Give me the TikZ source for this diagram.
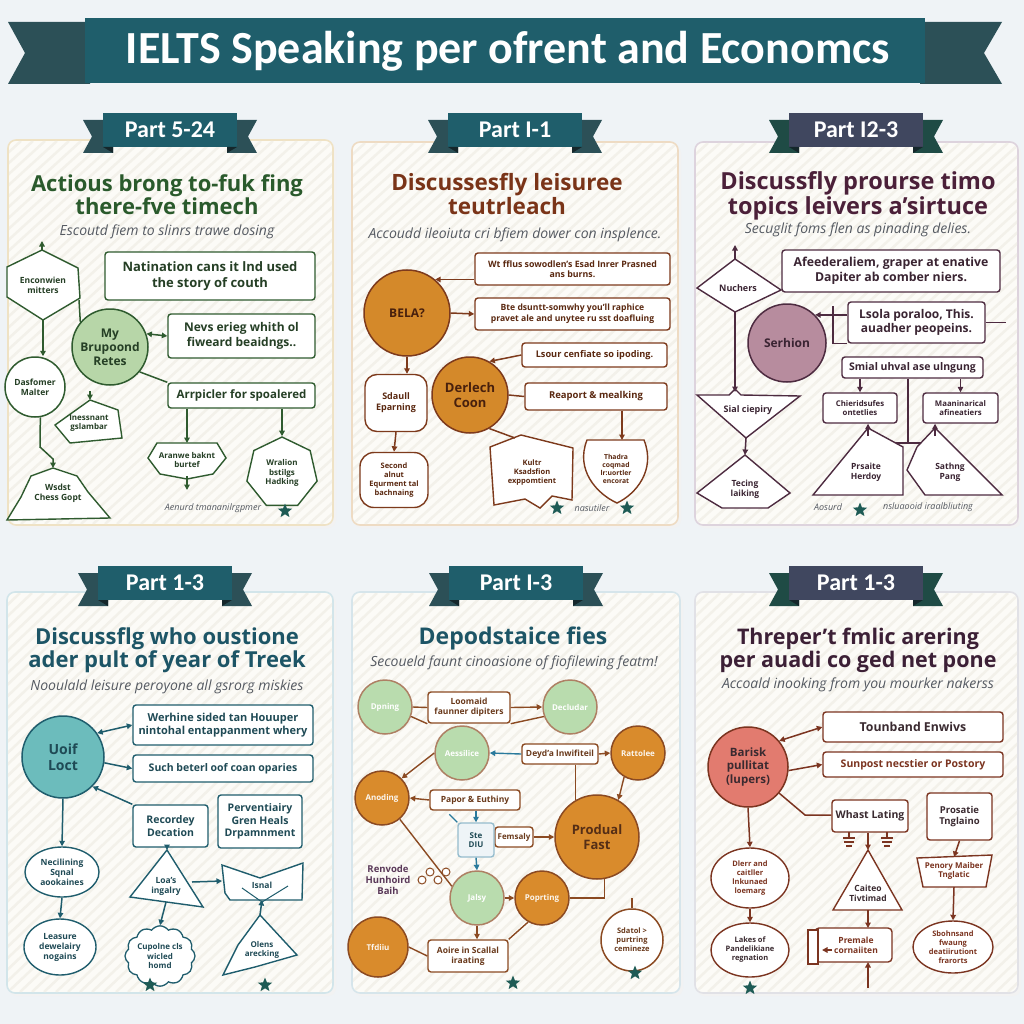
\documentclass[tikz,border=0pt]{standalone}
\usepackage{fontspec}
\setmainfont{Open Sans}
\newfontfamily\banfont{Carlito}
\usetikzlibrary{arrows.meta,shapes.geometric,shapes.symbols,calc}
\newcommand\fs[2]{\fontsize{#1}{#2}\selectfont}
\definecolor{bg}{HTML}{EFF3F6}
\definecolor{banmain}{HTML}{1F5E6B}
\definecolor{bantail}{HTML}{2C5057}
\definecolor{slate}{HTML}{40475F}
\definecolor{slatetail}{HTML}{1F4B45}
\definecolor{foldc}{HTML}{15272B}
\definecolor{pfill}{HTML}{FCFBF7}
\definecolor{stripec}{HTML}{F3F1EA}
\definecolor{subc}{HTML}{555A62}
\definecolor{starc}{HTML}{1E5B55}
\definecolor{l1}{HTML}{2F5B2F}\definecolor{t1}{HTML}{2A5A2C}\definecolor{g1}{HTML}{B7D6A8}\definecolor{p1b}{HTML}{EFE2C4}\definecolor{k1}{HTML}{253F25}
\definecolor{l2}{HTML}{7D3A1C}\definecolor{t2}{HTML}{7A3418}\definecolor{o2}{HTML}{D4892A}\definecolor{p2b}{HTML}{EEDBC3}\definecolor{k2}{HTML}{5A2810}
\definecolor{l3}{HTML}{4D2B40}\definecolor{t3}{HTML}{4B2039}\definecolor{m3}{HTML}{B78C9E}\definecolor{p3b}{HTML}{DDD3DD}\definecolor{k3}{HTML}{3A2432}
\definecolor{l4}{HTML}{1F5D6D}\definecolor{t4}{HTML}{1D5566}\definecolor{c4}{HTML}{6CBCBC}\definecolor{p4b}{HTML}{D2E5EA}\definecolor{k4}{HTML}{1F4A55}
\definecolor{l5}{HTML}{8B4A22}\definecolor{a5}{HTML}{2A7A9C}\definecolor{g5}{HTML}{B9DCAE}\definecolor{o5}{HTML}{D98B2C}\definecolor{p5b}{HTML}{D6E5EB}\definecolor{k5}{HTML}{6A3A1C}
\definecolor{l6}{HTML}{7B3420}\definecolor{t6}{HTML}{3C2036}\definecolor{c6}{HTML}{E27B6F}\definecolor{p6b}{HTML}{E1E1E6}\definecolor{k6}{HTML}{3A2A30}

\tikzset{
 arr/.style={-{Triangle[length=5.5pt,width=5.5pt]}},
 darr/.style={{Triangle[length=5.5pt,width=5.5pt]}-{Triangle[length=5.5pt,width=5.5pt]}},
 panelbox/.style={rounded corners=8pt, line width=1.6pt, fill=pfill},
 stripe/.style={stripec, line width=2.5pt},
 ttl/.style={align=center, font=\bfseries\fs{22}{22}},
 subt/.style={font=\itshape\fs{14}{16}, text=subc},
 foot/.style={font=\itshape\fs{9}{11}, text=subc},
 starn/.style={star, star points=5, star point ratio=2.3, fill=starc, minimum size=15pt, inner sep=0pt},
 circ/.style={circle, line width=1.5pt, align=center, inner sep=0pt},
 box/.style={rectangle, rounded corners=3pt, line width=1.4pt, fill=white, align=center, inner sep=1pt},
 lbl/.style={align=center, inner sep=0pt},
 rtext/.style={font=\banfont\bfseries\fs{24}{26}, text=white}
}
\newcommand{\ribbon}[6]{% name, cx, ytop, main colour, tail colour, text
 \fill[#5] ({#2-87},{#3+7}) -- ({#2-57},{#3+7}) -- ({#2-57},{#3+40}) -- ({#2-87},{#3+40}) -- ({#2-78},{#3+23.5}) -- cycle;
 \fill[#5] ({#2+87},{#3+7}) -- ({#2+57},{#3+7}) -- ({#2+57},{#3+40}) -- ({#2+87},{#3+40}) -- ({#2+78},{#3+23.5}) -- cycle;
 \fill[#4] ({#2-67},{#3}) rectangle ({#2+67},{#3+34});
 \fill[foldc] ({#2-67},{#3+34}) -- ({#2-57},{#3+34}) -- ({#2-57},{#3+40}) -- cycle;
 \fill[foldc] ({#2+67},{#3+34}) -- ({#2+57},{#3+34}) -- ({#2+57},{#3+40}) -- cycle;
 \node[rtext] (#1) at (#2,{#3+17}) {#6};
}
\newcommand{\stripes}[4]{%
 \begin{scope}
 \clip[rounded corners=8pt] (#1,#2) rectangle (#3,#4);
 \foreach \s in {-420,-408,...,340} {\draw[stripe] ({#1+\s},#4) -- ({#1+\s+420},#2);}
 \end{scope}}

\begin{document}
\begin{tikzpicture}[x=1pt,y=-1pt]
\useasboundingbox (0,0) rectangle (1024,1024);
\fill[bg] (0,0) rectangle (1024,1024);

% ===== main banner =====
\fill[bantail] (8,22) -- (90,22) -- (90,84) -- (8,84) -- (25,53) -- cycle;
\fill[bantail] (1002,22) -- (920,22) -- (920,84) -- (1002,84) -- (984,53) -- cycle;
\fill[banmain] (85,18) rectangle (925,83);
\node[font=\banfont\bfseries\fs{46}{48}, text=white] (maintitle) at (508,51) {IELTS Speaking per ofrent and Economcs};

% ===== panel frames =====
\fill[black!5, rounded corners=8pt] (10,143) rectangle (336,528);
\fill[black!5, rounded corners=8pt] (354,145) rectangle (681,528);
\fill[black!5, rounded corners=8pt] (697,145) rectangle (1021,528);
\fill[black!5, rounded corners=8pt] (9,595) rectangle (336,996);
\fill[black!5, rounded corners=8pt] (354,595) rectangle (683,996);
\fill[black!5, rounded corners=8pt] (697,595) rectangle (1021,996);
\draw[panelbox, draw=p1b] (8,140) rectangle (333,525);
\draw[panelbox, draw=p2b] (352,142) rectangle (678,525);
\draw[panelbox, draw=p3b] (695,142) rectangle (1018,525);
\draw[panelbox, draw=p4b] (7,592) rectangle (333,993);
\draw[panelbox, draw=p5b] (352,592) rectangle (680,993);
\draw[panelbox, draw=p6b] (695,592) rectangle (1018,993);
\stripes{9}{141}{332}{524}
\stripes{353}{143}{677}{524}
\stripes{696}{143}{1017}{524}
\stripes{8}{593}{332}{992}
\stripes{353}{593}{679}{992}
\stripes{696}{593}{1017}{992}

\ribbon{rib1}{170}{113}{banmain}{bantail}{Part 5-24}
\ribbon{rib2}{515}{113}{banmain}{bantail}{Part I-1}
\ribbon{rib3}{856}{113}{slate}{slatetail}{Part I2-3}
\ribbon{rib4}{165}{566}{banmain}{bantail}{Part 1-3}
\ribbon{rib5}{516}{566}{banmain}{bantail}{Part I-3}
\ribbon{rib6}{856}{566}{slate}{slatetail}{Part 1-3}

% ================= PANEL 1 =================
\node[ttl, text=t1] (t1) at (167,195) {Actious brong to-fuk fing\\there-fve timech};
\node[subt] (s1) at (167,232) {Escoutd fiem to slinrs trawe dosing};
\tikzset{shp1/.style={draw=l1, line width=1.4pt, fill=white}, c1/.style={draw=l1, line width=1.5pt}, k1t/.style={lbl, text=k1}}
\draw[shp1] (42,250) -- (78,268) -- (80,298) -- (43,320) -- (7,297) -- (7,267) -- cycle;
\node[k1t, font=\bfseries\fs{8.5}{10}] (n1e) at (43,285) {Enconwien\\mitters};
\coordinate (n1etop) at (42,250); \coordinate (n1ebot) at (43,320); \coordinate (n1er) at (79,300);
\draw[shp1] (90,400) -- (118,410) -- (122,438) -- (70,443) -- (55,425) -- cycle;
\node[k1t, font=\bfseries\fs{8}{9.5}] (n1g) at (89,423) {Inessnant\\gslambar};
\coordinate (n1gtop) at (90,400);
\draw[shp1] (53,468) -- (77,476) -- (88,492) -- (110,518) -- (7,520) -- (21,497) -- (31,476) -- cycle;
\node[k1t, font=\bfseries\fs{8.5}{10}] (n1h) at (58,493) {Wsdst\\Chess Gopt};
\coordinate (n1htop) at (53,468);
\draw[shp1] (157,443) -- (217,443) -- (226,458) -- (213,474) -- (187,479) -- (160,474) -- (148,458) -- cycle;
\node[k1t, font=\bfseries\fs{8}{9.5}] (n1i) at (187,460) {Aranwe baknt\\burtef};
\coordinate (n1itop) at (187,443); \coordinate (n1ibot) at (187,476);
\node[box, draw=l1, text=k1, minimum width=210, minimum height=48, font=\bfseries\fs{13}{16}] (n1a) at (210,276) {Natination cans it lnd used\\the story of couth};
\node[box, draw=l1, text=k1, minimum width=147, minimum height=44, font=\bfseries\fs{12}{15}] (n1b) at (241.5,336) {Nevs erieg whith ol\\fiweard beaidngs..};
\node[box, draw=l1, text=k1, minimum width=147, minimum height=25, font=\bfseries\fs{11.5}{13}] (n1c) at (241.5,395.5) {Arrpicler for spoalered};
\node[circ, draw=l1, fill=g1, text=k1, minimum size=76, font=\bfseries\fs{12}{14}] (n1d) at (110,347) {My\\Brupoond\\Retes};
\node[circ, draw=l1, fill=white, text=k1, minimum size=60, font=\bfseries\fs{8.5}{10}] (n1f) at (35,387) {Dasfomer\\Malter};
\node[regular polygon, regular polygon sides=7, draw=l1, line width=1.4pt, fill=white, text=k1, align=center, inner sep=0pt, minimum size=72, font=\bfseries\fs{8}{9.5}] (n1j) at (282,473) {Wralion\\bstilgs\\Hadking};
\draw[c1, arr] (n1etop) -- ++(0,-9);
\draw[c1, arr] (n1ebot) -- (n1ebot |- n1f.north);
\draw[c1] (n1er) -- (n1d.140);
\draw[c1, darr] (n1d.20) -- (n1b.west);
\draw[c1] (n1d.-40) -- (n1c.north west);
\draw[c1, arr] (n1c.south -| n1itop) -- (n1itop);
\draw[c1, arr] (n1ibot) -- ++(0,14);
\draw[c1, arr] (n1c.south -| n1j.north) -- (n1j.north);
\draw[c1, arr] (n1f.-80) -- (40,447) -- (53,459) -- (n1htop);
\draw[c1, arr] ($(n1gtop)+(0,-9)$) -- (n1gtop);
\node[foot] (f1) at (213,508) {Aenurd tmananilrgpmer};
\node[starn] (st1) at (285,511) {};

% ================= PANEL 2 =================
\node[ttl, text=t2, font=\bfseries\fs{22.5}{22}] (t2) at (507,194) {Discussesfly leisuree\\teutrleach};
\node[subt] (s2) at (515,235) {Accoudd ileoiuta cri bfiem dower con insplence.};
\tikzset{shp2/.style={draw=l2, line width=1.4pt, fill=white}, c2/.style={draw=l2, line width=1.5pt}, k2t/.style={lbl, text=k2}}
\draw[shp2] (490,447) -- (521,435) -- (573,448) -- (572,500) -- (552,496) -- (540,508) -- (525,499) -- (494,505) -- cycle;
\node[k2t, font=\bfseries\fs{7.5}{9}] (n2i) at (532,473) {Kultr\\Ksadsfion\\exppomtient};
\coordinate (n2itop) at (515,438);
\draw[shp2] (587,440) -- (644,440) .. controls (656,470) and (636,494) .. (617,503) .. controls (597,494) and (575,470) .. (587,440) -- cycle;
\node[k2t, font=\bfseries\fs{6.8}{8}] (n2j) at (616,469) {Thadra\\coqmad\\lr:uortler\\encorat};
\coordinate (n2jtop) at (622,440);
\node[box, draw=l2, text=k2, minimum width=195, minimum height=32, font=\bfseries\fs{8.8}{10.5}] (n2a) at (572.5,269) {Wt fflus sowodlen's Esad Inrer Prasned\\ans burns.};
\node[circ, draw=l2, fill=o2, text=k2!80!black, minimum size=86, font=\bfseries\fs{12}{14}] (n2b) at (407,313) {BELA?};
\node[box, draw=l2, text=k2, minimum width=195, minimum height=32, font=\bfseries\fs{8.6}{10.5}] (n2c) at (572.5,314) {Bte dsuntt-somwhy you'll raphice\\pravet ale and unytee ru sst doafluing};
\node[box, draw=l2, text=k2, minimum width=145, minimum height=24, font=\bfseries\fs{9.2}{11}] (n2d) at (594.5,355) {Lsour cenfiate so ipoding.};
\node[circ, draw=l2, fill=o2, text=k2!80!black, minimum size=76, font=\bfseries\fs{13}{15}] (n2e) at (470,395) {Derlech\\Coon};
\node[box, draw=l2, text=k2, minimum width=142, minimum height=27, font=\bfseries\fs{9.5}{11}] (n2f) at (596,396.5) {Reaport \& mealking};
\node[box, rounded corners=12pt, draw=l2, text=k2, minimum width=62, minimum height=57, font=\bfseries\fs{9}{11}] (n2g) at (396,403) {Sdaull\\Eparning};
\node[box, rounded corners=14pt, draw=l2, text=k2, minimum width=68, minimum height=55, font=\bfseries\fs{7.5}{9}] (n2h) at (394,480) {Second\\alnut\\Equrment tal\\bachnaing};
\draw[c2, arr] (n2a.west |- n2b.50) -- (n2b.50);
\draw[c2, arr] (n2b.east) -- (n2c.west);
\draw[c2, arr] (n2d.west) -- (n2e.60);
\draw[c2] (n2e.east) -- (n2f.west);
\draw[c2, arr] (n2b.south) -- (n2b.south |- n2g.north);
\draw[c2, arr] (n2g.south) -- (n2h.north);
\draw[c2] (n2e.-60) -- (n2itop);
\draw[c2, arr] (n2f.south -| n2jtop) -- (n2jtop);
\node[starn] (st2a) at (557,508) {};
\node[foot] (f2) at (592,508) {nasutiler};
\node[starn] (st2b) at (627,508) {};

% ================= PANEL 3 =================
\node[ttl, text=t3, font=\bfseries\fs{23.5}{22}] (t3) at (858,196) {Discussfly prourse timo\\topics leivers a'sirtuce};
\node[subt] (s3) at (858,230) {Secuglit foms flen as pinading delies.};
\tikzset{shp3/.style={draw=l3, line width=1.4pt, fill=white}, c3/.style={draw=l3, line width=1.5pt}, k3t/.style={lbl, text=k3}}
\coordinate (n3t) at (908,443);
\node[box, draw=l3, text=k3, minimum width=141, minimum height=21, font=\bfseries\fs{10.5}{12}] (n3e) at (912.5,367.5) {Smial uhval ase ulngung};
\draw[c3] (n3e.south -| n3t) -- (n3t);
\draw[c3] (n3t) -- ++(-38,0);
\draw[c3] (n3t) -- ++(27,0);
\draw[shp3] (697,288) -- (735,259) -- (781,290) -- (735,312) -- cycle;
\node[k3t, font=\bfseries\fs{9}{11}] (n3b) at (738,288) {Nuchers};
\coordinate (n3btop) at (735,259); \coordinate (n3bbot) at (735,312);
\draw[shp3] (697,395) -- (729,395) -- (735,389) -- (741,395) -- (800,396) -- (746,438) -- cycle;
\node[k3t, font=\bfseries\fs{9}{11}] (n3h) at (748,410) {Sial ciepiry};
\coordinate (n3htop) at (735,392); \coordinate (n3hbot) at (746,438);
\draw[shp3] (745,455) -- (790,493) -- (768,508) -- (722,508) -- (697,493) -- cycle;
\node[k3t, font=\bfseries\fs{8.5}{10}] (n3j) at (745,489) {Tecing\\laiking};
\coordinate (n3jtop) at (745,455);
\draw[shp3] (868,428) -- (903,447) -- (903,495) -- (813,495) -- cycle;
\node[k3t, font=\bfseries\fs{8.5}{10}] (n3i) at (866,472) {Prsaite\\Herdoy};
\coordinate (n3itop) at (868,428);
\draw[shp3] (935,428) -- (1002,495) -- (925,495) -- (907,470) -- (917,447) -- cycle;
\node[k3t, font=\bfseries\fs{8.5}{10}] (n3k) at (950,472) {Sathng\\Pang};
\coordinate (n3ktop) at (935,428);
\node[box, draw=l3, text=k3, minimum width=218, minimum height=42, font=\bfseries\fs{12.3}{14.5}] (n3a) at (891,271) {Afeederaliem, graper at enative\\Dapiter ab comber niers.};
\node[circ, draw=l3, fill=m3, text=k3, minimum size=78, font=\bfseries\fs{12}{14}] (n3c) at (787,343) {Serhion};
\node[box, draw=l3, text=k3, minimum width=137, minimum height=41, font=\bfseries\fs{12}{14}] (n3d) at (916.5,322.5) {Lsola poraloo, This.\\auadher peopeins.};
\node[box, draw=l3, text=k3, minimum width=74, minimum height=30, font=\bfseries\fs{7.8}{9.5}] (n3f) at (860,408) {Chieridsufes\\ontetlies};
\node[box, draw=l3, text=k3, minimum width=75, minimum height=30, font=\bfseries\fs{7.8}{9.5}] (n3g) at (960.5,408) {Maaninarical\\afineatiers};
\coordinate (n3br) at (833,306);
\draw[c3, arr] (n3btop) -- ++(0,-14);
\draw[c3, arr] (n3bbot) -- (n3htop);
\draw[c3, arr] (n3d.west |- n3c.45) -- (n3c.45);
\draw[c3] (n3br) |- (n3d.south west);
\draw[c3] (n3d.east) -- ++(20,0);
\draw[c3, arr] (n3e.south -| n3f.north) -- (n3f.north);
\draw[c3, arr] (n3e.south -| n3g.north) -- (n3g.north);
\draw[c3, arr] ($(n3itop)+(0,8)$) -- (n3f.south -| n3itop);
\draw[c3, arr] ($(n3ktop)+(0,8)$) -- (n3g.south -| n3ktop);
\draw[c3, arr] (n3hbot) -- (n3jtop);
\node[foot] (f3a) at (828,507) {Aosurd};
\node[starn] (st3) at (860,510) {};
\node[foot] (f3b) at (928,507) {nsluaooid iraalbliuting};

% ================= PANEL 4 =================
\node[ttl, text=t4] (t4) at (167,650) {Discussflg who oustione\\ader pult of year of Treek};
\node[subt] (s4) at (167,687) {Nooulald leisure peroyone all gsrorg miskies};
\tikzset{shp4/.style={draw=l4, line width=1.4pt, fill=white}, c4l/.style={draw=l4, line width=1.5pt}, k4t/.style={lbl, text=k4}}
\draw[shp4] (167,850) -- (203,907) -- (130,897) -- cycle;
\node[k4t, font=\bfseries\fs{8.5}{10}] (n4i) at (166,886) {Loa's\\ingalry};
\coordinate (n4itop) at (167,850); \coordinate (n4ir) at (192,882); \coordinate (n4ibot) at (166,902);
\draw[shp4] (222,865) -- (260,878) -- (303,863) -- (302,900) -- (230,900) -- (225,893) -- cycle;
\draw[l4, line width=1pt] (242,888) -- (262,902) -- (288,886);
\node[k4t, font=\bfseries\fs{8.5}{10}] (n4j) at (262,885) {Isnal};
\coordinate (n4jl) at (222,881); \coordinate (n4jbot) at (262,900);
\draw[shp4] (260,915) -- (297,955) -- (255,967) -- (223,975) -- (238,945) -- cycle;
\node[k4t, font=\bfseries\fs{8}{9.5}] (n4l) at (262,950) {Olens\\arecking};
\coordinate (n4ltop) at (260,915);
\node[cloud, cloud puffs=12, cloud puff arc=110, aspect=1.2, draw=l4, line width=1.3pt, fill=white, text=k4, align=center, inner sep=0pt, minimum width=70, minimum height=56, font=\bfseries\fs{8}{9.5}] (n4k) at (160,956) {Cupolne cls\\wicled\\homd};
\node[circ, draw=l4, fill=c4, text=k4, minimum size=82, font=\bfseries\fs{14}{16}] (n4a) at (63,757) {Uoif\\Loct};
\node[box, draw=l4, text=k4, minimum width=180, minimum height=40, font=\bfseries\fs{11}{13}] (n4b) at (223,725) {Werhine sided tan Houuper\\nintohal entappanment whery};
\node[box, draw=l4, text=k4, minimum width=180, minimum height=27, font=\bfseries\fs{10.5}{12}] (n4c) at (223,768.5) {Such beterl oof coan oparies};
\node[box, draw=l4, text=k4, minimum width=75, minimum height=42, font=\bfseries\fs{10.5}{12.5}] (n4d) at (170.5,826) {Recordey\\Decation};
\node[box, draw=l4, text=k4, minimum width=84, minimum height=53, font=\bfseries\fs{10.5}{12.5}] (n4e) at (260,821.5) {Perventiairy\\Gren Heals\\Drpamnment};
\node[ellipse, draw=l4, line width=1.4pt, fill=white, text=k4, align=center, inner sep=0pt, minimum width=74, minimum height=50, font=\bfseries\fs{8.5}{10}] (n4f) at (62,872) {Necilining\\Sqnal\\aookaines};
\node[ellipse, draw=l4, line width=1.4pt, fill=white, text=k4, align=center, inner sep=0pt, minimum width=72, minimum height=56, font=\bfseries\fs{8.5}{10}] (n4g) at (60,947) {Leasure\\dewelairy\\nogains};
\draw[c4l, darr] (n4a.35) -- (n4b.west);
\draw[c4l, arr] (n4a.-8) -- (n4c.west);
\draw[c4l, arr] (n4d.north west) -- (n4a.-45);
\draw[c4l, arr] (n4a.south) -- (n4f.north);
\draw[c4l, arr] (n4f.south) -- (n4g.north);
\draw[c4l, arr] (n4d.south -| n4itop) -- (n4itop);
\draw[c4l, arr] (n4ir) -- (n4jl);
\draw[c4l, arr] (n4ibot) -- (n4k.north);
\draw[c4l, arr] (n4ltop) -- (n4jbot);
\node[starn] (st4a) at (150,985) {};
\node[starn] (st4b) at (265,985) {};

% ================= PANEL 5 =================
\node[ttl, text=t4, font=\bfseries\fs{23}{23}] (t5) at (513,638) {Depodstaice fies};
\node[subt] (s5) at (514,663) {Secoueld faunt cinoasione of fiofilewing featm!};
\tikzset{c5/.style={draw=l5, line width=1.4pt}, c5b/.style={draw=a5, line width=1.4pt},
 gc/.style={circ, draw=l5!70, fill=g5, text=white, minimum size=54, font=\bfseries\fs{8}{9.5}},
 oc/.style={circ, draw=l5, fill=o5, text=white!92!o5, minimum size=54, font=\bfseries\fs{8}{9.5}}}
\node[gc] (n5a) at (385,707) {Dpning};
\node[gc] (n5b) at (570,707) {Decludar};
\node[gc] (n5c) at (462,753) {Aessilice};
\node[oc] (n5d) at (638,753) {Rattolee};
\node[oc] (n5e) at (382,798) {Anoding};
\node[oc, text=k5!80!black, minimum size=84, font=\bfseries\fs{13}{15}] (n5f) at (597,837) {Produal\\Fast};
\node[gc] (n5g) at (477,898) {Jalsy};
\node[oc] (n5h) at (542,898) {Poprting};
\node[oc, minimum size=60] (n5i) at (378,947) {Tfdiiu};
\node[circ, draw=l5, fill=white, text=k5, minimum size=62, font=\bfseries\fs{7.5}{9}] (n5j) at (632,940) {Sdatol >\\purtring\\cemineze};
\node[box, draw=l5, text=k5, minimum width=82, minimum height=31, font=\bfseries\fs{8.5}{10}] (n5k) at (469,707.5) {Loomaid\\faunner dipiters};
\node[box, draw=l5, text=k5, minimum width=76, minimum height=20, font=\bfseries\fs{8.5}{10}] (n5l) at (560,754) {Deyd'a lnwifiteil};
\node[box, draw=l5, text=k5, minimum width=90, minimum height=20, font=\bfseries\fs{8.5}{10}] (n5m) at (475,800) {Papor \& Euthiny};
\node[box, draw=l5, text=k5, minimum width=38, minimum height=20, font=\bfseries\fs{8}{9.5}] (n5n) at (514,837) {Femsaly};
\node[box, draw=a5!50, fill=a5!8, text=k4, minimum width=36, minimum height=34, font=\bfseries\fs{8}{9.5}] (n5o) at (476,840) {Ste\\DIU};
\node[box, draw=l5, text=k5, minimum width=80, minimum height=32, font=\bfseries\fs{8.5}{10}] (n5p) at (468,956) {Aoire in Scallal\\iraating};
\node[lbl, text=slate!80!purple, font=\bfseries\fs{9.5}{11}] (n5q) at (388,880) {Renvode\\Hunhoird\\Baih};
\draw[c5] (n5a.east) -- (n5k.west);
\draw[c5, arr] (n5k.east) -- (n5b.west);
\draw[c5] (n5a.-20) -- (n5k.south west);
\draw[c5] (n5k.south east) -- (n5b.-160);
\draw[c5b, arr] (n5l.west) -- (n5c.east);
\draw[c5, arr] (n5l.east) -- (n5d.west);
\draw[c5, arr] (n5c.west) -- (n5e.45);
\draw[c5, arr] (n5m.west) -- (n5e.east);
\draw[c5, arr] (n5d.-120) -- (n5f.60);
\draw[c5] (n5l.south -| n5f.120) -- (n5f.120);
\draw[c5b, arr] (n5m.south -| n5o.north) -- (n5o.north);
\draw[c5b, arr] (n5o.south) -- (n5g.north);
\draw[c5, arr] (n5n.east) -- (n5f.west);
\draw[c5b] (n5o.north west) -- ++(-8,-8);
\draw[c5] (n5e.-50) -- (n5g.155);
\foreach \p/\q in {430/872,438/880,446/872,422/880} {\draw[l5, line width=1pt, fill=white] (\p,\q) circle (4);}
\draw[c5, arr] (n5g.east) -- (n5h.west);
\draw[c5] (n5h.east) -| (n5f.-80);
\draw[c5, arr] (n5g.south) -- (n5p.north -| n5g.south);
\draw[c5] (n5i.east) -- (n5p.west);
\draw[c5] (n5h.-120) -- (n5p.north east);
\draw[c5] (n5j.north) -- ++(0,-10);
\node[starn] (st5a) at (513,983) {};
\node[starn] (st5b) at (635,973) {};

% ================= PANEL 6 =================
\node[ttl, text=t6, font=\bfseries\fs{21.5}{23}] (t6) at (858,650) {Threper't fmlic arering\\per auadi co ged net pone};
\node[subt] (s6) at (858,685) {Accoald inooking from you mourker nakerss};
\tikzset{shp6/.style={draw=l6, line width=1.4pt, fill=white}, c6/.style={draw=l6, line width=1.5pt}, k6t/.style={lbl, text=l6}}
\draw[shp6] (868,850) -- (902,910) -- (833,910) -- cycle;
\node[k6t, text=k6, font=\bfseries\fs{8.5}{10}] (n6g) at (868,893) {Caiteo\\Tivtimad};
\coordinate (n6gtop) at (868,850); \coordinate (n6gbot) at (868,910);
\draw[shp6, rounded corners=4pt] (815,928) rectangle (892,962);
\draw[shp6] (808,930) rectangle (818,964);
\node[k6t, font=\bfseries\fs{8.5}{10}] (n6h) at (856,945) {Premale\\cornaiiten};
\coordinate (n6htop) at (868,928); \coordinate (n6hbot) at (868,962);
\draw[shp6] (917,858) -- (992,855) -- (986,887) -- (923,887) -- cycle;
\node[k6t, font=\bfseries\fs{8}{9.5}] (n6j) at (954,871) {Penory Maiber\\Tnglatic};
\coordinate (n6jtop) at (954,857); \coordinate (n6jbot) at (954,887);
\node[circ, draw=l6, fill=c6, text=k6, minimum size=80, font=\bfseries\fs{11.5}{13.5}] (n6a) at (748,767) {Barisk\\pullitat\\(lupers)};
\node[box, draw=l6, text=k6, minimum width=180, minimum height=30, font=\bfseries\fs{12.3}{14}] (n6b) at (913,727) {Tounband Enwivs};
\node[box, draw=l6, text=l6, minimum width=180, minimum height=25, font=\bfseries\fs{10.5}{12}] (n6c) at (913,764.5) {Sunpost necstier or Postory};
\node[box, draw=l6, text=k6, minimum width=76, minimum height=32, font=\bfseries\fs{10.5}{12}] (n6d) at (870,816) {Whast Lating};
\node[box, draw=l6, text=k6, minimum width=65, minimum height=47, font=\bfseries\fs{9.5}{11.5}] (n6e) at (959.5,816.5) {Prosatie\\Tnglaino};
\node[ellipse, draw=l6, line width=1.4pt, fill=white, text=l6, align=center, inner sep=0pt, minimum width=78, minimum height=60, font=\bfseries\fs{7.5}{9}] (n6f) at (750,878) {Dlerr and\\caitller\\lnkunaed\\loemarg};
\node[ellipse, draw=l6, line width=1.4pt, fill=white, text=k6, align=center, inner sep=0pt, minimum width=78, minimum height=54, font=\bfseries\fs{7.5}{9}] (n6i) at (750,950) {Lakes of\\Pandelikiane\\regnation};
\node[ellipse, draw=l6, line width=1.4pt, fill=white, text=l6, align=center, inner sep=0pt, minimum width=80, minimum height=52, font=\bfseries\fs{7.5}{9}] (n6k) at (953,947) {Sbohnsand\\fwaung\\deatiirutiont\\frarorts};
\coordinate (n6elb) at (805,815);
\draw[c6, darr] (n6a.40) -- (n6b.west);
\draw[c6, arr] (n6a.-5) -- (n6c.west);
\draw[c6] (n6a.-40) -- (n6elb) -- (n6d.west |- n6elb);
\draw[c6, arr] (n6a.south) -- (n6f.north);
\draw[c6, arr] (n6f.south) -- (n6i.north);
\draw[c6, arr] (n6d.south -| n6gtop) -- (n6gtop);
\foreach \gx in {849,887} {
 \draw[c6, line width=1.1pt] (\gx,832) -- (\gx,838);
 \draw[c6, line width=1.1pt] ({\gx-6},838) -- ({\gx+6},838) ({\gx-5},842) -- ({\gx+5},842) ({\gx-3},846) -- ({\gx+3},846);}
\draw[c6, arr] (n6gbot) -- (n6htop);
\draw[c6, arr] ($(n6hbot)+(0,26)$) -- (n6hbot);
\draw[c6, arr] (832,950) -- (822,950);
\draw[c6, arr] (n6e.south) -- (n6jtop);
\draw[c6, arr] (n6jbot) -- (n6k.north);
\node[starn] (st6) at (750,988) {};
\end{tikzpicture}
\end{document}
